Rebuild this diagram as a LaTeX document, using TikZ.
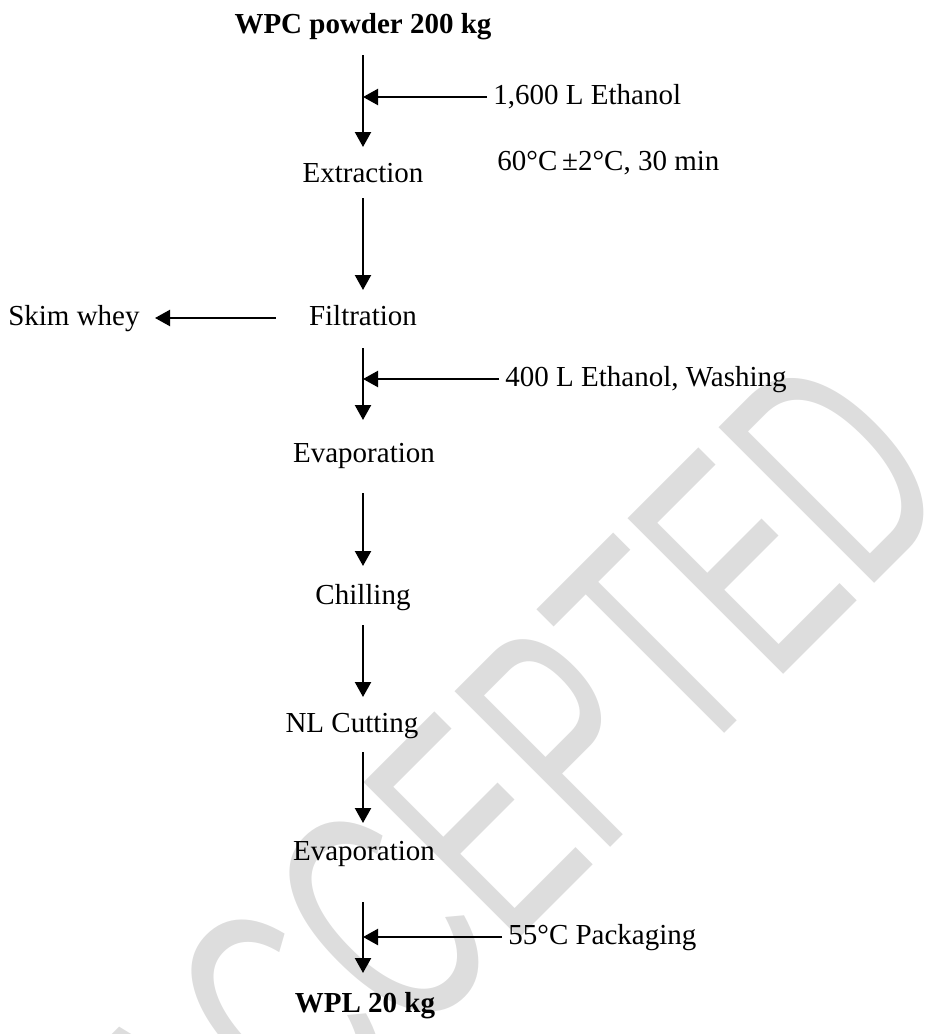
\documentclass[tikz,border=0pt]{standalone}
\usepackage{fontspec}
\setmainfont{Liberation Serif}
\newfontfamily\wmfont{Liberation Sans}
\usetikzlibrary{arrows.meta}
\definecolor{wmgray}{RGB}{221,221,221}

\begin{document}
\begin{tikzpicture}[x=0.5pt, y=-0.5pt, font=\fontsize{14.5}{17}\selectfont]

\tikzset{
  stepnode/.style={inner sep=0pt, text height=10pt, text depth=3pt},
  flow/.style={-{Triangle[length=7.5pt,width=8pt]}, line width=1.1pt}
}

\useasboundingbox (0,0) rectangle (937,1034);

% ---------- watermark ----------
\begin{scope}
  \clip (0,0) rectangle (937,1034);
  \node[rotate=45, anchor=base west, inner sep=0pt, text=wmgray,
        font=\wmfont\fontsize{160}{160}\selectfont] (wm) at (222,1236)
       {\scalebox{0.6}[1]{ACCEPTED}};
\end{scope}

% ---------- process steps ----------
\coordinate (col) at (363,0);

\node[stepnode, anchor=base, font=\fontsize{14.5}{17}\selectfont\bfseries] (wpc) at (363,33) {WPC powder 200 kg};
\node[stepnode, anchor=base] (extr)  at (363,182)  {Extraction};
\node[stepnode, anchor=base] (filt)  at (363,325)  {Filtration};
\node[stepnode, anchor=base] (evap1) at (364,462)  {Evaporation};
\node[stepnode, anchor=base] (chill) at (363,604)  {Chilling};
\node[stepnode, anchor=base] (nlcut) at (352,732)  {NL Cutting};
\node[stepnode, anchor=base] (evap2) at (364,860)  {Evaporation};
\node[stepnode, anchor=base, font=\fontsize{14.5}{17}\selectfont\bfseries] (wpl) at (365,1012) {WPL 20 kg};

% ---------- side inputs and outputs ----------
\node[stepnode, anchor=west]      (eth1) at (493,97)  {1,600 L Ethanol};
\node[stepnode, anchor=base west] (cond) at (497,170) {60°C\,±2°C, 30 min};
\node[stepnode, anchor=west]      (eth2) at (505,379) {400 L Ethanol, Washing};
\node[stepnode, anchor=west]      (pack) at (508,937) {55°C Packaging};
\node[stepnode, anchor=base east] (skim) at (140,325) {Skim whey};

% ---------- main flow ----------
\foreach \a/\b/\s/\e in {wpc/extr/29/28, extr/filt/23/28, filt/evap1/30/35,
                         evap1/chill/38/31, chill/nlcut/28/28, nlcut/evap2/27/30,
                         evap2/wpl/49/32} {
  \draw[flow, shorten <=\s*0.5pt, shorten >=\e*0.5pt] (col |- \a) -- (col |- \b);
}

% ---------- side arrows ----------
\foreach \n in {eth1, eth2, pack} {
  \draw[flow, shorten <=3pt] (\n.west) -- (col |- \n.west);
}
\draw[flow, shorten <=16.5pt, shorten >=7.5pt] (filt.west) -- (skim.east |- filt.west);

\end{tikzpicture}
\end{document}
